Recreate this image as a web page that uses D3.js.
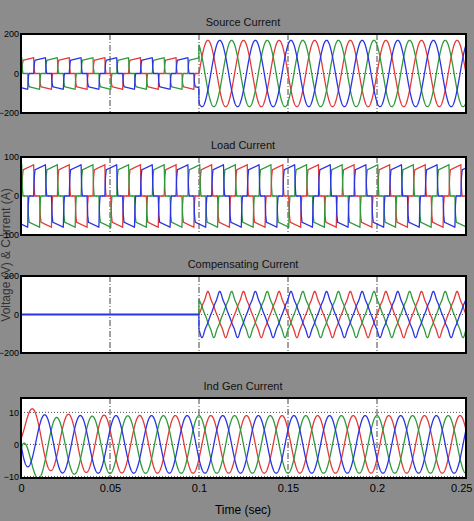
<!DOCTYPE html>
<html><head><meta charset="utf-8">
<script src="https://cdn.jsdelivr.net/npm/d3@7"></script>
<style>body{margin:0;background:#8c8c8c;overflow:hidden}text{font-family:"Liberation Sans Narrow","Arial Narrow","Liberation Sans",sans-serif}</style>
</head><body><svg id="c" width="474" height="521"></svg>
<script>
// ---- data ----
const titles = ["Source Current", "Load Current", "Compensating Current", "Ind Gen Current"];
const yDomains = [[-200, 200], [-100, 100], [-200, 200], [-10.5, 14.5]];
const yTicks = [[-200, 0, 200], [-100, 0, 100], [-200, 0, 200], [-10, 0, 10]];
const xTicks = [0, 0.05, 0.1, 0.15, 0.2, 0.25];
const xTickLabels = ["0", "0.05", "0.1", "0.15", "0.2", "0.25"];
const phaseColors = ["#e23a3a", "#2f9a3c", "#2a34e0"]; // red, green, blue
const freq = 50;            // Hz
const switchTime = 0.1;     // s, compensation starts
// six-pulse rectifier current shape over one cycle [deg, per-unit]
const sixStepTemplate = [[0,0],[20,0],[26,0.6],[34,0.84],[140,1.0],[145,0.3],[152,0],[200,0],[206,-0.6],[214,-0.84],[320,-1.0],[325,-0.3],[332,0],[360,0]];
const loadAmp = 80;         // A
const loadPhase = [12, -228, -108];     // red, green, blue (deg)
const sourceAmp = 168;      // after 0.1 s
const sourcePhase = [0, -240, -120];
const compAmp = 100;
const compHarmonics = [[3, -0.12], [5, 0.05], [7, -0.03]]; // [order, per-unit]
const compPhase = [0, -240, -120];
const genAmp = 9;
const genPhase = [-30, 90, -150];
const genDcOffset = [1.8, -1.6, 0.2];
const genTau = 0.018;

// ---- helpers ----
const tpl = d3.scaleLinear().domain(sixStepTemplate.map(d=>d[0])).range(sixStepTemplate.map(d=>d[1]));
const deg = (t, ph) => ((t*freq*360 + ph) % 360 + 360) % 360;
const rad = Math.PI/180;
const sampleT = d3.range(0, 0.25 + 1e-9, 0.0001);
function load(t,i){ return loadAmp*tpl(deg(t, loadPhase[i])); }
function comp(t,i){ const a = deg(t,compPhase[i])*rad; return compAmp*(Math.sin(a) + d3.sum(compHarmonics, h => h[1]*Math.sin(h[0]*a))); }
const series = [
  (t,i) => t < switchTime ? load(t,i) : sourceAmp*Math.sin(deg(t,sourcePhase[i])*rad),
  (t,i) => load(t,i),
  (t,i) => t < switchTime ? 0 : comp(t,i),
  (t,i) => genAmp*Math.sin(deg(t,genPhase[i])*rad) + genDcOffset[i]*Math.exp(-t/genTau) - genAmp*Math.sin(genPhase[i]*rad)*Math.exp(-t/0.004)
];
const panels = [[34,113],[157,235],[276,353],[398,478]];

const svg = d3.select("#c");
const x = d3.scaleLinear().domain([0, 0.25]).range([21, 466]);
svg.append("text").attr("transform","translate(10,255) rotate(-90)").attr("text-anchor","middle").attr("font-size",12).attr("fill","#333").text("Voltage (V) & Current (A)");

panels.forEach((p, k) => {
  const y = d3.scaleLinear().domain(yDomains[k]).range([p[1], p[0]]);
  const g = svg.append("g");
  g.append("rect").attr("x",21).attr("y",p[0]).attr("width",445).attr("height",p[1]-p[0]).attr("fill","#fff");
  g.append("text").attr("x",243).attr("y",p[0]-8).attr("text-anchor","middle").attr("font-size",11).attr("fill","#111").text(titles[k]);
  xTicks.slice(1,5).forEach(v => g.append("line").attr("x1",x(v)).attr("x2",x(v)).attr("y1",p[0]).attr("y2",p[1]).attr("stroke","#444").attr("stroke-dasharray","6,2,1,2").attr("stroke-width",1));
  yTicks[k].forEach(v => { if (y(v) > p[0]+1 && y(v) < p[1]-1) g.append("line").attr("x1",21).attr("x2",466).attr("y1",y(v)).attr("y2",y(v)).attr("stroke","#555").attr("stroke-dasharray","1,2"); });
  const clipId = "clip"+k;
  svg.append("clipPath").attr("id",clipId).append("rect").attr("x",21).attr("y",p[0]).attr("width",445).attr("height",p[1]-p[0]);
  const line = d3.line().x(d=>x(d[0])).y(d=>y(d[1]));
  [0,1,2].forEach(i => {
    g.append("path").attr("clip-path",`url(#${clipId})`).datum(sampleT.map(t=>[t, series[k](t,i)]))
      .attr("d", line).attr("fill","none").attr("stroke",phaseColors[i]).attr("stroke-width",1.3);
  });
  g.append("rect").attr("x",21).attr("y",p[0]).attr("width",445).attr("height",p[1]-p[0]).attr("fill","none").attr("stroke","#000").attr("stroke-width",2);
  const ya = g.append("g").attr("transform","translate(21,0)").call(d3.axisLeft(y).tickValues(yTicks[k]).tickSize(0).tickPadding(2));
  ya.select(".domain").remove();
  ya.selectAll("text").attr("font-size",9).attr("fill","#000").style("font-family",'"Liberation Sans Narrow","Liberation Sans",sans-serif');
  if (k === 3) {
    const xa = g.append("g").attr("transform",`translate(0,${p[1]})`).call(d3.axisBottom(x).tickValues(xTicks).tickFormat((d,i)=>xTickLabels[i]).tickSize(0).tickPadding(6));
    xa.select(".domain").remove();
    xa.selectAll("text").attr("font-size",11).attr("fill","#000").style("font-family",'"Liberation Sans Narrow","Liberation Sans",sans-serif')
      .attr("text-anchor",(d,i)=> i===xTicks.length-1 ? "end" : "middle").attr("dx",(d,i)=> i===xTicks.length-1 ? 6 : 0);
  }
});
svg.append("text").attr("x",243).attr("y",514).attr("text-anchor","middle").attr("font-size",12).attr("fill","#000").text("Time (sec)");
</script></body></html>
